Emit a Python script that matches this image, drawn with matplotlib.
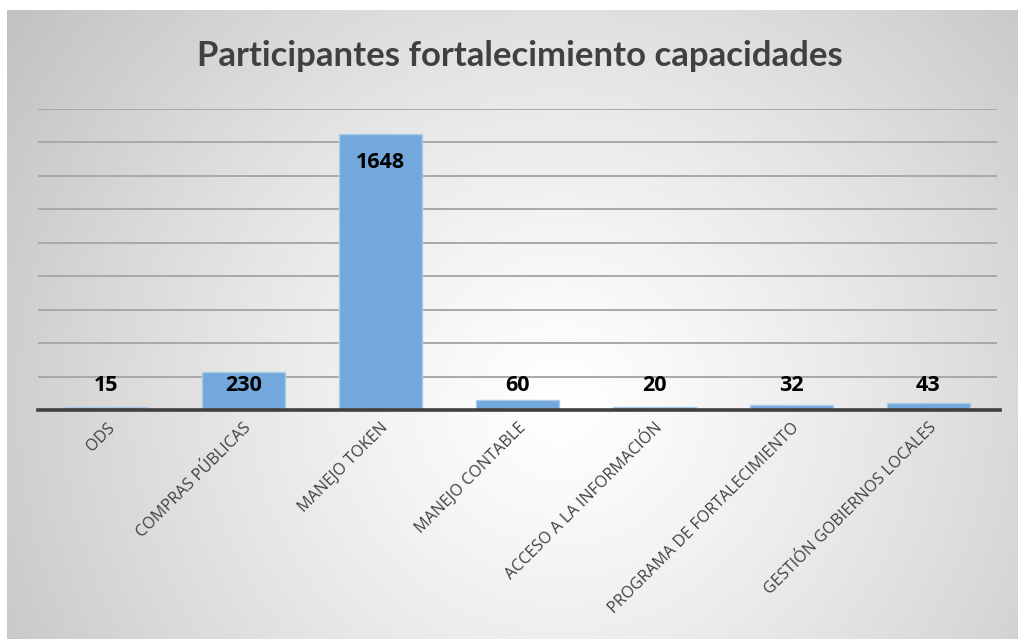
import numpy as np
import matplotlib
matplotlib.use("Agg")
import matplotlib.pyplot as plt

categories = ["ODS", "COMPRAS PÚBLICAS", "MANEJO TOKEN", "MANEJO CONTABLE",
              "ACCESO A LA INFORMACIÓN", "PROGRAMA DE FORTALECIMIENTO",
              "GESTIÓN GOBIERNOS LOCALES"]
values = [15, 230, 1648, 60, 20, 32, 43]
title = "Participantes fortalecimiento capacidades"

W, H = 1018, 639
fig = plt.figure(figsize=(W / 100, H / 100), dpi=100)
fig.patch.set_facecolor("white")

# radial gradient background
x0, y0 = 7, 10
bg = fig.add_axes([x0 / W, 0, 1 - x0 / W, 1 - y0 / H])
bg.set_axis_off()
gw, gh = W - x0, H - y0
yy, xx = np.mgrid[0:gh, 0:gw]
cx, cy = 560 - x0, 400 - y0
d = np.sqrt((xx - cx) ** 2 + (yy - cy) ** 2)
R = np.sqrt(cx ** 2 + cy ** 2)
t = np.clip(d / R, 0, 1)
g = (255 - 62 * t ** 1.25) / 255.0
img = np.dstack([g, g, g])
bg.imshow(img, aspect="auto", interpolation="bilinear", extent=[0, 1, 0, 1])
bg.set_xlim(0, 1)
bg.set_ylim(0, 1)

# main axes
left, right = 38, 997
base, top = 410, 109
ax = fig.add_axes([left / W, (H - base) / H, (right - left) / W, (base - top) / H])
ax.set_facecolor("none")
ax.set_xlim(-0.5, len(categories) - 0.5)
ax.set_ylim(0, 1800)
for gy in range(200, 1801, 200):
    ax.axhline(gy, color="#A8A8A8", lw=1.4, zorder=1)
ax.axhline(0, color="#404040", lw=2.6, zorder=4, xmax=1.003, clip_on=False)

x = np.arange(len(categories))
ax.bar(x, values, width=0.6, color="#72A8DB", edgecolor="#A9CBEA", lw=1, zorder=3)

for xi, v in zip(x, values):
    ly = max(v - 167, 149)
    ax.text(xi, ly, str(v), ha="center", va="center", fontsize=15.5,
            fontweight="bold", family="Open Sans", color="black", zorder=5)

for s in ax.spines.values():
    s.set_visible(False)
ax.set_yticks([])
ax.set_xticks(x)
ax.set_xticklabels(categories, rotation=45, ha="right", rotation_mode="anchor",
                   fontsize=11.6, family="Open Sans", color="#404040")
ax.tick_params(axis="x", length=0, pad=7)

fig.text(0.511, 1 - 56 / H, title, ha="center", va="center", fontsize=25,
         fontweight="bold", family="Lato", color="#404040")

fig.savefig("out.png", dpi=100)
